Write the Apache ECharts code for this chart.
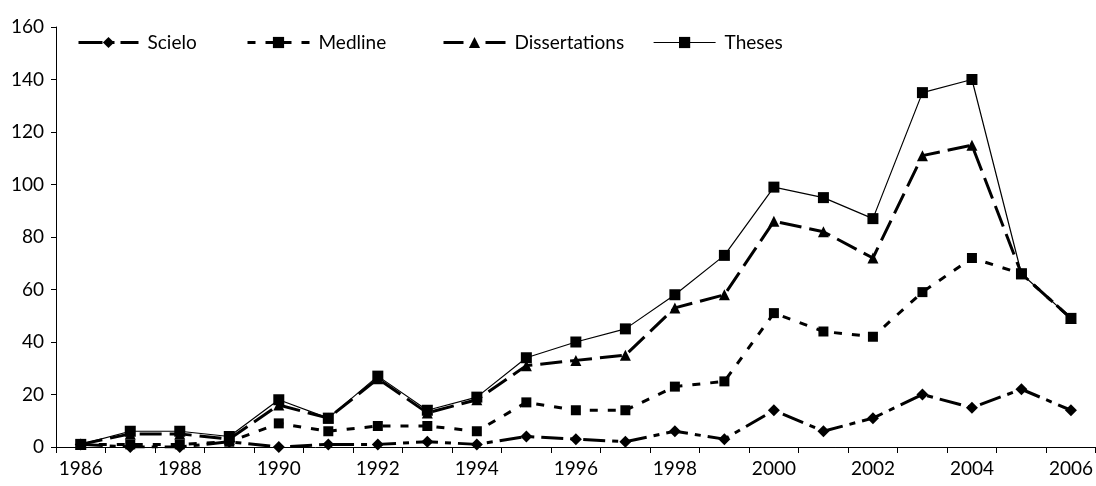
<!DOCTYPE html>
<html>
<head>
<meta charset="utf-8">
<script src="https://cdn.jsdelivr.net/npm/echarts@6/dist/echarts.min.js"></script>
<style>html,body{margin:0;padding:0;background:#fff}#c{width:1096px;height:486px}</style>
</head>
<body>
<div id="c"></div>
<script>
var years = ['1986','1987','1988','1989','1990','1991','1992','1993','1994','1995','1996','1997','1998','1999','2000','2001','2002','2003','2004','2005','2006'];
var scielo = [1,0,0,2,0,1,1,2,1,4,3,2,6,3,14,6,11,20,15,22,14];
var medline = [1,1,1,2,9,6,8,8,6,17,14,14,23,25,51,44,42,59,72,66,49];
var dissertations = [1,5,5,3,16,11,26,13,18,31,33,35,53,58,86,82,72,111,115,66,49];
var theses = [1,6,6,4,18,11,27,14,19,34,40,45,58,73,99,95,87,135,140,66,49];
var yTicks = [0,20,40,60,80,100,120,140,160];

var FONT = 'Lato';
var chart = echarts.init(document.getElementById('c'));
function leg(name, left, w, lw, dash) {
  return {
    data: [name], left: left, top: 33, itemWidth: w, itemHeight: 14, itemGap: 0,
    lineStyle: {width: lw, type: dash, color: '#000'},
    textStyle: {fontFamily: FONT, fontSize: 19, color: '#000', padding: [0,0,0,4]},
    padding: 0
  };
}
chart.setOption({
  animation: false,
  legend: [leg('Scielo', 77, 60, 3, [24,6,6,6]), leg('Medline', 246, 62, 3, [8,10]), leg('Dissertations', 442, 62, 3, [20,22]), leg('Theses', 653, 62, 1.2, 'solid')],
  grid: {left: 56, right: 0, top: 27, bottom: 39},
  xAxis: {
    type: 'category', data: years, boundaryGap: true,
    axisLine: {lineStyle: {color: '#000', width: 1}},
    axisTick: {show: true, interval: 0, length: 6, lineStyle: {color: '#000'}},
    axisLabel: {interval: 1, color: '#000', fontFamily: FONT, fontSize: 19, margin: 12}
  },
  yAxis: {
    type: 'value', min: yTicks[0], max: yTicks[yTicks.length-1], interval: 20,
    axisLine: {show: true, lineStyle: {color: '#000', width: 1}},
    axisTick: {show: true, length: 5, lineStyle: {color: '#000'}},
    splitLine: {show: false},
    axisLabel: {color: '#000', fontFamily: FONT, fontSize: 19, margin: 12}
  },
  series: [
    {name: 'Scielo', type: 'line', data: scielo, symbol: 'diamond', symbolSize: 12,
     itemStyle: {color: '#000'}, lineStyle: {color: '#000', width: 3, type: [22,7,6,7]}},
    {name: 'Medline', type: 'line', data: medline, symbol: 'rect', symbolSize: 10,
     itemStyle: {color: '#000'}, lineStyle: {color: '#000', width: 3, type: [8,10]}},
    {name: 'Dissertations', type: 'line', data: dissertations, symbol: 'triangle', symbolSize: 11,
     itemStyle: {color: '#000'}, lineStyle: {color: '#000', width: 3, type: [22,8]}},
    {name: 'Theses', type: 'line', data: theses, symbol: 'rect', symbolSize: 11,
     itemStyle: {color: '#000'}, lineStyle: {color: '#000', width: 1.2, type: 'solid'}}
  ]
});
</script>
</body>
</html>
